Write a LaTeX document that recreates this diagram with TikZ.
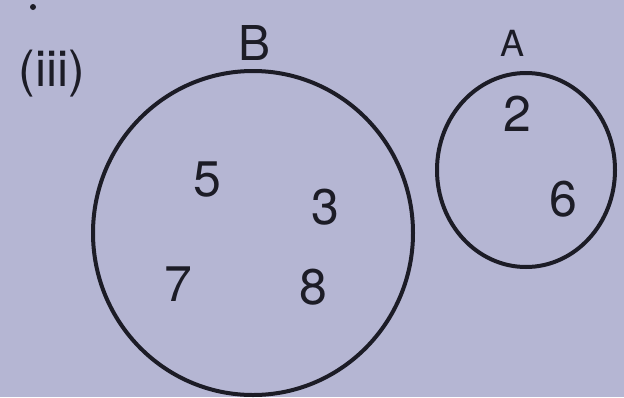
\documentclass[tikz,border=0pt]{standalone}
\usepackage{fontspec}
\setmainfont{TeX Gyre Heros}
\usetikzlibrary{positioning}
\definecolor{paper}{RGB}{181,182,211}
\definecolor{ink}{RGB}{28,28,38}
\tikzset{
  every node/.style={text=ink, inner sep=0pt},
  setline/.style={draw=ink, line width=4pt},
  elem/.style={font=\fontsize{50}{50}\selectfont},
  setname/.style={font=\fontsize{48}{48}\selectfont},
}

\begin{document}
\begin{tikzpicture}[x=1pt, y=-1pt]
  % page, in pixels of the reference
  \fill[paper] (0,0) rectangle (624,397);
  \useasboundingbox (0,0) rectangle (624,397);
  \fill[ink] (33,7) circle (3);
  \node[font=\fontsize{50}{50}\selectfont] (part) at (52,74) {(iii)};
  % set B
  \coordinate (cB) at (253,233);
  \draw[setline] (cB) ellipse [x radius=160, y radius=162];
  \node[setname] (nB) at (255,43) {B};
  \node[elem] (e5) at (207,180) {5};
  \node[elem] (e3) at (325,207) {3};
  \node[elem] (e7) at (178,284) {7};
  \node[elem] (e8) at (313,287) {8};
  % set A
  \coordinate (cA) at (526,170);
  \draw[setline] (cA) ellipse [x radius=89, y radius=97];
  \node[setname, font=\fontsize{36}{36}\selectfont] (nA) at (513,43) {A};
  \node[elem] (e2) at (517,114) {2};
  \node[elem] (e6) at (563,199) {6};
\end{tikzpicture}
\end{document}
